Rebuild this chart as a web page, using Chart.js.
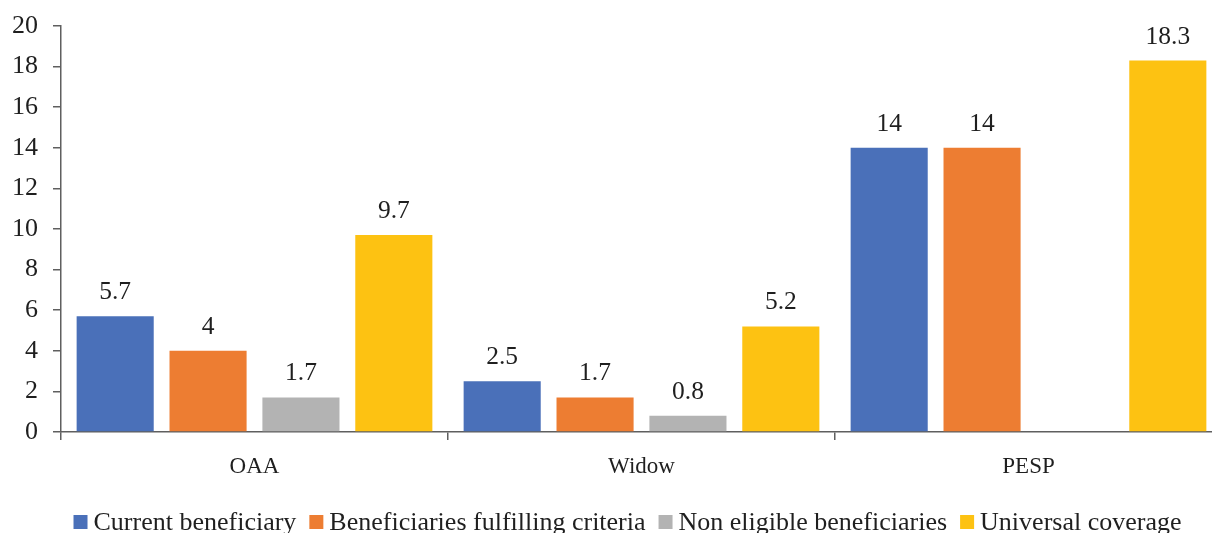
<!DOCTYPE html>
<html>
<head>
<meta charset="utf-8">
<script src="https://cdn.jsdelivr.net/npm/chart.js@4.4.1/dist/chart.umd.min.js"></script>
<style>
  html, body { margin: 0; padding: 0; background: #fff; overflow: hidden; }
  #wrap { width: 1224px; height: 533px; position: relative; }
</style>
</head>
<body>
<div id="wrap"><canvas id="chart"></canvas></div>
<script>
// Data
const categories = ['OAA', 'Widow', 'PESP'];
const currentBeneficiary = [5.7, 2.5, 14];
const fulfillingCriteria = [4, 1.7, 14];
const nonEligible = [1.7, 0.8, null];
const universalCoverage = [9.7, 5.2, 18.3];
const seriesNames = ['Current beneficiary', 'Beneficiaries fulfilling criteria', 'Non eligible beneficiaries', 'Universal coverage'];
const seriesColors = ['#4a70b9', '#ed7d32', '#b3b3b3', '#fdc212'];
const yTicks = [0, 2, 4, 6, 8, 10, 12, 14, 16, 18, 20];

const FONT = "'Liberation Serif', 'DejaVu Serif', serif";
const TEXT = '#1f1f1f';
const AXIS = '#5f5f5f';

// draw the value above each bar (no datalabels plugin available offline)
const valueLabels = {
    id: 'valueLabels',
    afterDatasetsDraw(chart) {
        const ctx = chart.ctx;
        ctx.save();
        ctx.font = '25.5px ' + FONT;
        ctx.fillStyle = TEXT;
        ctx.textAlign = 'center';
        ctx.textBaseline = 'alphabetic';
        chart.data.datasets.forEach((ds, i) => {
            const meta = chart.getDatasetMeta(i);
            meta.data.forEach((bar, j) => {
                const v = ds.data[j];
                if (v === null || v === undefined) return;
                ctx.fillText(String(v), bar.x, bar.y - 17);
            });
        });
        ctx.restore();
    }
};

// compact legend, Excel style: small square, short gap, text
const bottomLegend = {
    id: 'bottomLegend',
    afterDraw(chart) {
        const ctx = chart.ctx;
        const box = 14, gap = 6, itemGap = 13, cy = 522, centerX = 627.5;
        ctx.save();
        ctx.font = '26px ' + FONT;
        ctx.textBaseline = 'middle';
        ctx.textAlign = 'left';
        const items = chart.data.datasets.map(ds => ({
            text: ds.label, color: ds.backgroundColor, w: ctx.measureText(ds.label).width
        }));
        const total = items.reduce((s, it) => s + box + gap + it.w, 0) + itemGap * (items.length - 1);
        let x = centerX - total / 2;
        items.forEach(it => {
            ctx.fillStyle = it.color;
            ctx.fillRect(x, cy - box / 2, box, box);
            ctx.fillStyle = TEXT;
            ctx.fillText(it.text, x + box + gap, cy + 1);
            x += box + gap + it.w + itemGap;
        });
        ctx.restore();
    }
};

new Chart(document.getElementById('chart'), {
    type: 'bar',
    data: {
        labels: categories,
        datasets: [
            { label: seriesNames[0], data: currentBeneficiary, backgroundColor: seriesColors[0] },
            { label: seriesNames[1], data: fulfillingCriteria, backgroundColor: seriesColors[1] },
            { label: seriesNames[2], data: nonEligible, backgroundColor: seriesColors[2] },
            { label: seriesNames[3], data: universalCoverage, backgroundColor: seriesColors[3] }
        ]
    },
    options: {
        responsive: true,
        maintainAspectRatio: false,
        animation: false,
        datasets: {
            bar: { categoryPercentage: 0.96, barPercentage: 0.83 }
        },
        layout: { padding: { top: 26, right: 2, left: 0, bottom: 56 } },
        plugins: {
            tooltip: { enabled: false },
            legend: { display: false }
        },
        scales: {
            x: {
                afterFit: (scale) => { scale.height = 45; },
                border: { color: AXIS, width: 1.5 },
                grid: { offset: true, drawOnChartArea: false, drawTicks: true, tickLength: 8, color: AXIS, lineWidth: 1.5 },
                ticks: { font: { family: FONT, size: 23 }, color: TEXT, padding: 13 }
            },
            y: {
                min: 0,
                max: 20,
                afterBuildTicks: (scale) => { scale.ticks = yTicks.map(v => ({ value: v })); },
                afterFit: (scale) => { scale.width = 61; scale.paddingTop = 0; scale.paddingBottom = 0; },
                border: { color: AXIS, width: 1.5 },
                grid: { drawOnChartArea: false, drawTicks: true, tickLength: 8, color: AXIS, lineWidth: 1.5 },
                ticks: { font: { family: FONT, size: 26, lineHeight: 1 }, color: TEXT, padding: 15 }
            }
        }
    },
    plugins: [valueLabels, bottomLegend]
});
</script>
</body>
</html>
